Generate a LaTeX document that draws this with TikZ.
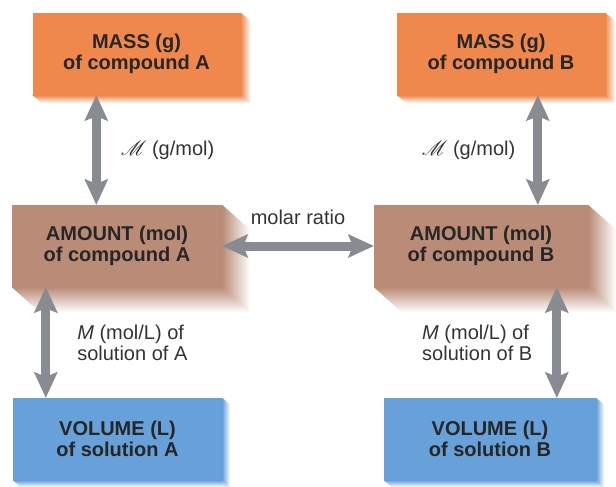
\documentclass[tikz,border=0pt]{standalone}
\usepackage{fontspec}
\setmainfont{Liberation Sans}
\usepackage{mathrsfs}
\usetikzlibrary{arrows.meta}
\definecolor{orng}{RGB}{240,136,78}
\definecolor{brwn}{RGB}{186,139,119}
\definecolor{blu}{RGB}{104,160,218}
\definecolor{gry}{RGB}{136,140,146}
\begin{document}
\begin{tikzpicture}
[x=1pt,y=-1pt
,bx/.style={minimum width=208pt,minimum height=82pt,inner sep=0pt,align=center,text=black!85,font=\fontsize{20}{21}\selectfont\bfseries}
,Fat/.tip={Stealth[length=26pt,width=24pt,inset=5pt,line width=0pt]}
,cv/.style={line width=9pt,draw=gry,arrows={Fat-Fat}}
,lbl/.style={inner sep=0pt,align=left,text=black!80,font=\fontsize{20}{21}\selectfont}]
\useasboundingbox (0,0) rectangle (616,487);
\node[bx,fill=orng] (massA) at (136.5,54) {MASS (g)\\of compound A};
\node[bx,fill=orng] (massB) at (501,54) {MASS (g)\\of compound B};
\node[bx,fill=brwn,minimum width=210pt] (amtA) at (117,246) {AMOUNT (mol)\\of compound A};
\node[bx,fill=brwn,minimum width=214pt] (amtB) at (481,246) {AMOUNT (mol)\\of compound B};
\node[bx,fill=blu,minimum width=209pt] (volA) at (117.5,439) {VOLUME (L)\\of solution A};
\node[bx,fill=blu,minimum width=212pt] (volB) at (490,439) {VOLUME (L)\\of solution B};
\foreach \n/\c/\dx/\dy in {massA/orng/10/8,massB/orng/10/8,amtA/brwn/28/25,amtB/brwn/28/25,volA/blu/8/7,volB/blu/8/7}
{\shade[left color=\c,right color=white] (\n.north east) -- ++(\dx,\dy) -- ([shift={(\dx,\dy)}]\n.south east) -- (\n.south east) -- cycle;
 \shade[top color=\c,bottom color=white] (\n.south west) -- (\n.south east) -- ++(\dx,\dy) -- ([shift={(\dx,\dy)}]\n.south west) -- cycle;}
\coordinate (a1) at ([xshift=64pt]massA.south west);
\coordinate (b1) at ([xshift=141pt]massB.south west);
\coordinate (a2) at ([xshift=34pt]amtA.south west);
\coordinate (b2) at ([xshift=183pt]amtB.south west);
\draw[cv] (a1) -- (a1 |- amtA.north) node[midway,right=20pt,lbl]{$\mathscr{M}$ (g/mol)};
\draw[cv] (b1) -- (b1 |- amtB.north) node[midway,left=18pt,lbl]{$\mathscr{M}$ (g/mol)};
\draw[cv] (a2) -- (a2 |- volA.north) node[midway,right=27pt,lbl]{\textit{M} (mol/L) of\\solution of A};
\draw[cv] (b2) -- (b2 |- volB.north) node[midway,left=20pt,lbl]{\textit{M} (mol/L) of\\solution of B};
\draw[cv] (amtA.east) -- (amtB.west) node[midway,above=17pt,lbl]{molar ratio};
\end{tikzpicture}
\end{document}
